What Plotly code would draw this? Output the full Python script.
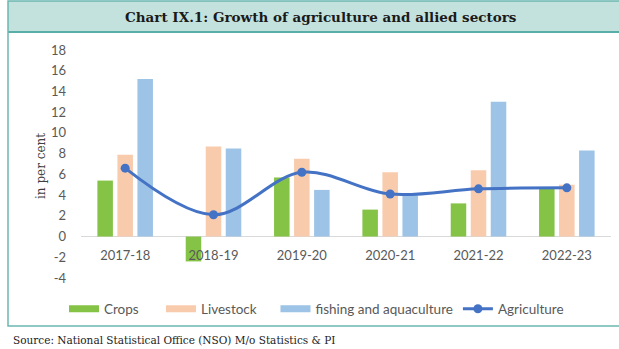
import plotly.graph_objects as go

years = ["2017-18", "2018-19", "2019-20", "2020-21", "2021-22", "2022-23"]
crops = [5.4, -2.4, 5.7, 2.6, 3.2, 4.6]
livestock = [7.9, 8.7, 7.5, 6.2, 6.4, 5.0]
fishing = [15.2, 8.5, 4.5, 4.0, 13.0, 8.3]
agriculture = [6.6, 2.1, 6.2, 4.1, 4.6, 4.7]
y_ticks = [-4, -2, 0, 2, 4, 6, 8, 10, 12, 14, 16, 18]
y_tick_labels = ["-4", "-2", "0", "2", "4", "6", "8", "10", "12", "14", "16", "18"]

C_CROPS = "#85c347"
C_LIVE = "#f8cbad"
C_FISH = "#9dc3e6"
C_AGRI = "#4472c4"

W, H = 619, 349
ML, MR, MT, MB = 81, 8, 50, 71
PW, PH = W - ML - MR, H - MT - MB


def px(x):
    return (x - ML) / PW


def py(y):
    return (H - MB - y) / PH


fig = go.Figure()
for name, vals, col in [("Crops", crops, C_CROPS), ("Livestock", livestock, C_LIVE),
                        ("fishing and aquaculture", fishing, C_FISH)]:
    fig.add_trace(go.Bar(x=years, y=vals, name=name, marker_color=col,
                         marker_line_width=0, showlegend=False))
fig.add_trace(go.Scatter(x=years, y=agriculture, name="Agriculture", mode="lines+markers",
                         line=dict(color=C_AGRI, width=3, shape="spline", smoothing=1.0),
                         marker=dict(size=9, color=C_AGRI), showlegend=False))

# legend entries (non-breaking spaces only widen the spacing between entries)
for name, col, pad in [("Crops", C_CROPS, 5), ("Livestock", C_LIVE, 4),
                       ("fishing and aquaculture", C_FISH, 0)]:
    fig.add_trace(go.Scatter(x=[None], y=[None], name=name + "\u00a0" * pad, mode="lines",
                             line=dict(color=col, width=7)))
fig.add_trace(go.Scatter(x=[None], y=[None], name="Agriculture", mode="lines+markers",
                         line=dict(color=C_AGRI, width=3), marker=dict(size=9, color=C_AGRI)))

tick_font = dict(family="Lato", size=13, color="#595959")

fig.update_layout(
    width=W, height=H,
    margin=dict(l=ML, r=MR, t=MT, b=MB, pad=0),
    paper_bgcolor="white", plot_bgcolor="white",
    barmode="group", bargap=0.32, bargroupgap=0.225,
    showlegend=True,
    legend=dict(orientation="h", x=px(64), y=py(309), xanchor="left", yanchor="middle",
                font=dict(family="Lato", size=13.5, color="#595959"),
                bgcolor="rgba(0,0,0,0)", itemwidth=30, tracegroupgap=0),
    xaxis=dict(showgrid=False, showline=False, ticks="", tickfont=tick_font,
               anchor="free", position=4 / 22, ticklabelstandoff=9),
    yaxis=dict(range=[-4, 18], tickmode="array", tickvals=y_ticks, ticktext=y_tick_labels,
               showgrid=False, showline=False, ticks="",
               zeroline=True, zerolinecolor="#d9d9d9", zerolinewidth=1,
               tickfont=tick_font, ticklabelstandoff=14),
    font=dict(family="Lato"),
)

shapes = [
    # title band
    dict(type="rect", xref="paper", yref="paper", x0=px(8), x1=px(640), y0=py(32), y1=py(1),
         fillcolor="#c3e2de", line=dict(width=0), layer="below"),
    dict(type="line", xref="paper", yref="paper", x0=px(8), x1=px(640), y0=py(32), y1=py(32),
         line=dict(color="#5aaea8", width=2)),
    # frame
    dict(type="rect", xref="paper", yref="paper", x0=px(8), x1=px(640), y0=py(326), y1=py(1),
         fillcolor="rgba(0,0,0,0)", line=dict(color="#6cb6b1", width=1.5)),
]
fig.update_layout(shapes=shapes)

fig.add_annotation(text="<b>Chart IX.1: Growth of agriculture and allied sectors</b>",
                   xref="paper", yref="paper", x=px(321), y=py(17), showarrow=False,
                   xanchor="center", yanchor="middle",
                   font=dict(family="DejaVu Serif", size=13.5, color="#1a1a1a"))
fig.add_annotation(text="in per cent", xref="paper", yref="paper", x=px(41), y=py(166),
                   showarrow=False, textangle=-90, xanchor="center", yanchor="middle",
                   font=dict(family="DejaVu Serif", size=12, color="#404040"))
fig.add_annotation(text="Source: National Statistical Office (NSO) M/o Statistics & PI",
                   xref="paper", yref="paper", x=px(11), y=py(340), showarrow=False,
                   xanchor="left", yanchor="middle",
                   font=dict(family="DejaVu Serif", size=10.5, color="#222222"))

fig.write_html("out.html", config={"displayModeBar": False},
               post_script="document.body.style.margin='0px';")
